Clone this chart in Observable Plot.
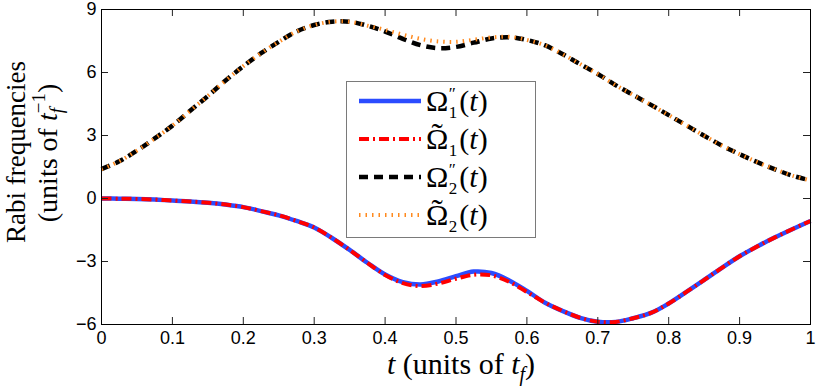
<!DOCTYPE html>
<html><head><meta charset="utf-8">
<script src="https://cdn.jsdelivr.net/npm/d3@7"></script>
<script src="https://cdn.jsdelivr.net/npm/@observablehq/plot@0.6"></script>
<style>body{margin:0;background:#fff}</style>
</head><body><div id="chart"></div>
<script>
const tValues = [0,0.025,0.05,0.075,0.1,0.125,0.15,0.175,0.2,0.225,0.25,0.275,0.3,0.325,0.35,0.375,0.4,0.425,0.45,0.475,0.5,0.525,0.55,0.575,0.6,0.625,0.65,0.675,0.7,0.725,0.75,0.775,0.8,0.825,0.85,0.875,0.9,0.925,0.95,0.975,1];
const omega1pp = [0.00,-0.01,-0.02,-0.05,-0.10,-0.14,-0.20,-0.29,-0.41,-0.60,-0.80,-1.07,-1.38,-1.88,-2.45,-3.06,-3.62,-3.98,-4.10,-3.95,-3.70,-3.48,-3.55,-3.90,-4.40,-4.95,-5.35,-5.68,-5.87,-5.88,-5.70,-5.45,-5.00,-4.45,-3.88,-3.30,-2.75,-2.28,-1.85,-1.45,-1.07];
const omega1t  = [0.00,-0.01,-0.02,-0.05,-0.10,-0.14,-0.20,-0.29,-0.41,-0.60,-0.80,-1.07,-1.38,-1.88,-2.45,-3.06,-3.64,-4.03,-4.17,-4.05,-3.82,-3.63,-3.66,-3.97,-4.45,-4.95,-5.35,-5.68,-5.87,-5.88,-5.70,-5.45,-5.00,-4.45,-3.88,-3.30,-2.75,-2.28,-1.85,-1.45,-1.07];
const omega2pp = [1.40,1.77,2.28,2.86,3.47,4.18,4.88,5.62,6.30,6.92,7.46,7.95,8.26,8.42,8.42,8.23,7.95,7.60,7.30,7.16,7.22,7.42,7.62,7.68,7.55,7.30,6.88,6.40,5.93,5.40,4.93,4.46,3.97,3.48,2.99,2.52,2.11,1.73,1.39,1.08,0.86];
const omega2t  = [1.40,1.77,2.28,2.86,3.47,4.18,4.88,5.62,6.30,6.92,7.46,7.95,8.26,8.42,8.42,8.23,8.03,7.80,7.60,7.48,7.46,7.56,7.67,7.70,7.55,7.30,6.88,6.40,5.93,5.40,4.93,4.46,3.97,3.48,2.99,2.52,2.11,1.73,1.39,1.08,0.86];
const xTicks = [0,0.1,0.2,0.3,0.4,0.5,0.6,0.7,0.8,0.9,1];
const yTicks = [-6,-3,0,3,6,9];
const seriesKeys = ["o1pp","o1t","o2pp","o2t"];
const legendIndex = ["1","1","2","2"];
const legendTilde = [false,true,false,true];

const seriesData = {o1pp: omega1pp, o1t: omega1t, o2pp: omega2pp, o2t: omega2t};
const styles = {
  o1pp: {stroke:"#2b4cff", strokeWidth:4.5, strokeDasharray:null},
  o1t:  {stroke:"#ff0000", strokeWidth:4, strokeDasharray:"10,4,2,4"},
  o2pp: {stroke:"#000000", strokeWidth:4.5, strokeDasharray:"9,6"},
  o2t:  {stroke:"#ff8a1f", strokeWidth:4, strokeDasharray:"1.5,5"}
};
const rows = k => tValues.map((t,i) => ({t, v: seriesData[k][i]}));

const W = 830, H = 386, mL = 101, mR = 20, mT = 9, mB = 62;
const plotW = W - mL - mR, plotH = H - mT - mB;
const tickLen = 7;

const chart = Plot.plot({
  width: W, height: H,
  marginLeft: mL, marginRight: mR, marginTop: mT, marginBottom: mB,
  style: {fontFamily: "'Liberation Sans', Arial, sans-serif", fontSize: "18px", color: "#000", background: "#fff"},
  x: {domain: [0,1]},
  y: {domain: [-6,9]},
  marks: [
    ...seriesKeys.map(k => Plot.line(rows(k), {x:"t", y:"v", curve:"catmull-rom", strokeLinecap:"butt", ...styles[k]})),
    Plot.tickX(xTicks, {x: d=>d, insetTop: plotH - tickLen, stroke:"#222"}),
    Plot.tickX(xTicks, {x: d=>d, insetBottom: plotH - tickLen, stroke:"#222"}),
    Plot.tickY(yTicks, {y: d=>d, insetRight: plotW - tickLen, stroke:"#222"}),
    Plot.tickY(yTicks, {y: d=>d, insetLeft: plotW - tickLen, stroke:"#222"}),
    Plot.frame({stroke:"#000"}),
    Plot.axisX({ticks: xTicks, tickSize: 0, tickPadding: 7, tickFormat: d => String(d), label: null}),
    Plot.axisY({ticks: yTicks, tickSize: 0, tickPadding: 5, tickFormat: d => d < 0 ? "\u2212" + Math.abs(d) : String(d), label: null})
  ]
});
document.getElementById("chart").appendChild(chart);

const svg = d3.select(chart);
const serif = "'Liberation Serif', 'Times New Roman', serif";
function measure(str, size, italic) {
  const t = svg.append("text").attr("text-anchor","start").attr("font-family", serif).attr("font-size", size)
    .attr("font-style", italic ? "italic" : null).text(str);
  const w = t.node().getComputedTextLength();
  t.remove();
  return w;
}

// X title
const xt = svg.append("text").attr("x", 461).attr("y", 374).attr("text-anchor","middle")
  .attr("font-family", serif).attr("font-size", 30).attr("fill","#000");
xt.append("tspan").attr("font-style","italic").text("t");
xt.append("tspan").text(" (units of ");
xt.append("tspan").attr("font-style","italic").text("t");
xt.append("tspan").attr("font-style","italic").attr("font-size",20).attr("dy",7).text("f");
xt.append("tspan").attr("dy",-7).text(")");

// Y title
svg.append("text").attr("transform","translate(25,152) rotate(-90)").attr("text-anchor","middle")
  .attr("font-family", serif).attr("font-size", 27).attr("fill","#000").text("Rabi frequencies");
const y2 = svg.append("text").attr("transform","translate(57,153) rotate(-90)").attr("text-anchor","middle")
  .attr("font-family", serif).attr("font-size", 28).attr("fill","#000");
const fW = measure("f", 19, true);
y2.append("tspan").text("(units of ");
y2.append("tspan").attr("font-style","italic").text("t");
y2.append("tspan").attr("font-style","italic").attr("font-size",19).attr("dy",6).text("f");
y2.append("tspan").attr("font-size",19).attr("dx",-fW).attr("dy",-18).text("\u22121");
y2.append("tspan").attr("dy",12).text(")");

// Legend
const lg = svg.append("g").attr("text-anchor","start");
lg.append("rect").attr("x",346.5).attr("y",81.5).attr("width",189).attr("height",156)
  .attr("fill","#fff").attr("stroke","#7a7a7a").attr("stroke-width",1);
const rowY = [101, 139, 177, 215];
const LF = 30, SF = 17, TF = 34;
const wO = measure("\u03A9", LF, false);
const wP = measure("\u2033", SF, false);
const wT = measure("\u02DC", TF, false);
seriesKeys.forEach((k,i) => {
  const s = styles[k];
  lg.append("line").attr("x1",359).attr("x2",421).attr("y1",rowY[i]).attr("y2",rowY[i])
    .attr("stroke",s.stroke).attr("stroke-width",s.strokeWidth)
    .attr("stroke-dasharray", s.strokeDasharray);
  const tx = lg.append("text").attr("x",426).attr("y",rowY[i] + 10).attr("text-anchor","start")
    .attr("font-family", serif).attr("font-size", LF).attr("fill","#000");
  tx.append("tspan").text("\u03A9");
  if (legendTilde[i]) {
    tx.append("tspan").attr("font-size",TF).attr("dx",-(wO + wT)/2).attr("dy",-2).text("\u02DC");
    tx.append("tspan").attr("font-size",SF).attr("dx",(wO - wT)/2 + 0.5).attr("dy",9).text(legendIndex[i]);
  } else {
    tx.append("tspan").attr("font-size",SF).attr("dx",0.5).attr("dy",-12).text("\u2033");
    tx.append("tspan").attr("font-size",SF).attr("dx",-wP).attr("dy",19).text(legendIndex[i]);
  }
  tx.append("tspan").attr("dx",2).attr("dy",-7).text("(");
  tx.append("tspan").attr("font-style","italic").text("t");
  tx.append("tspan").text(")");
});
</script>
</body></html>
